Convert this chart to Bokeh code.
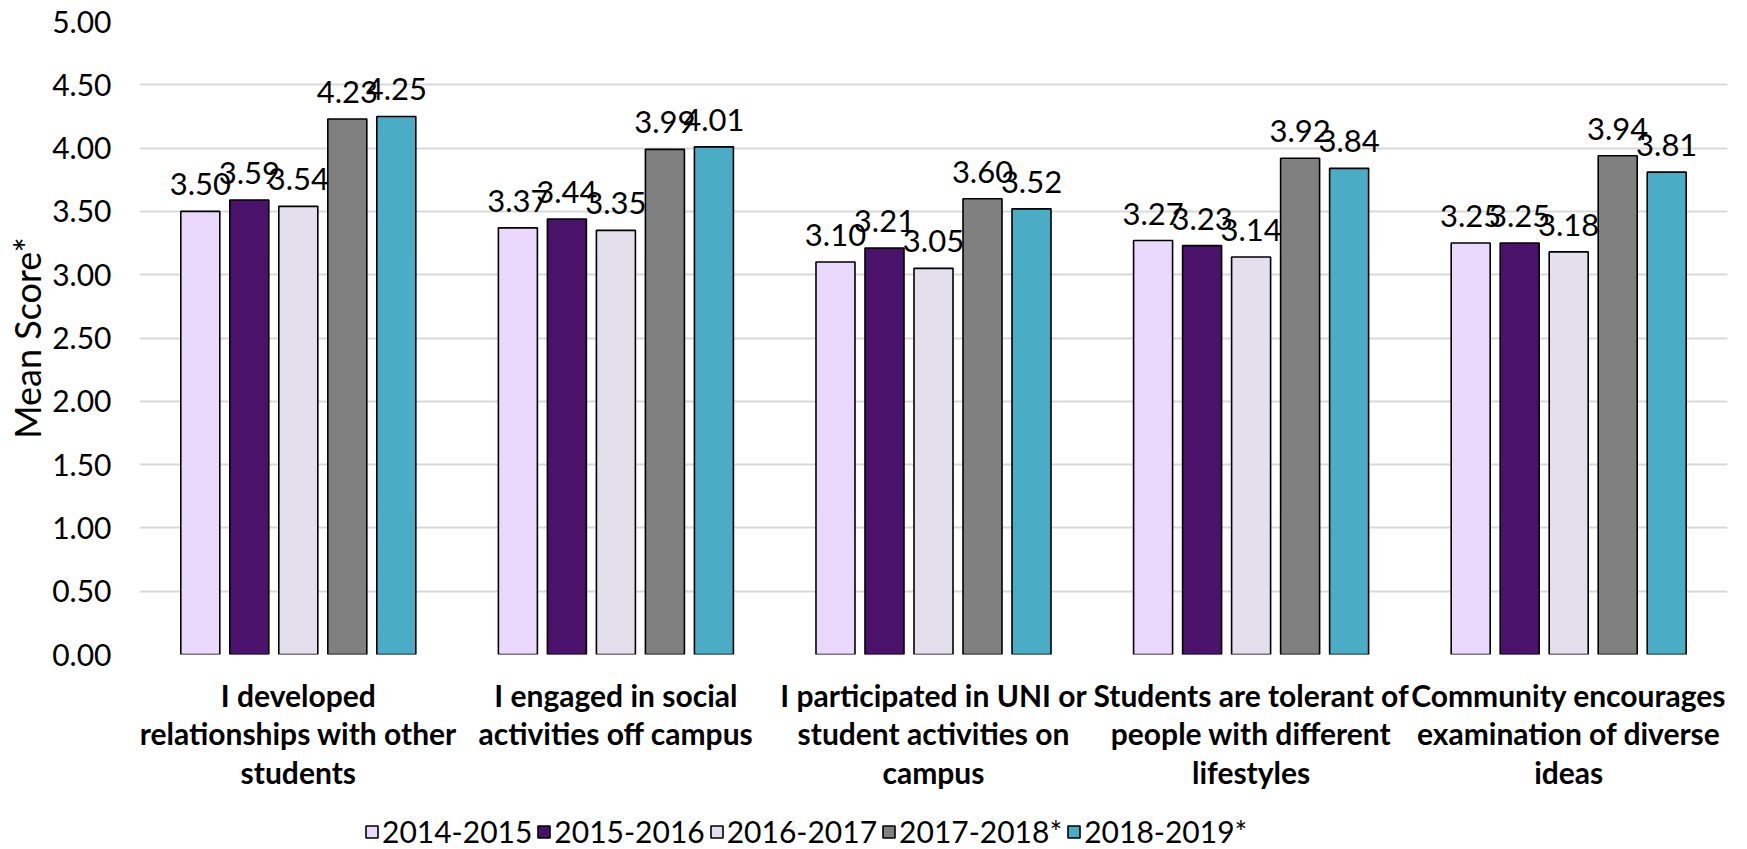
from bokeh.plotting import figure
from bokeh.layouts import column
from bokeh.models import ColumnDataSource, FactorRange, Legend, LegendItem, FixedTicker, CustomJSTickFormatter
from bokeh.transform import dodge
from bokeh.embed import file_html
from bokeh.resources import INLINE
from bokeh.core.properties import value

categories = [
    "I developed\nrelationships with other\nstudents",
    "I engaged in social\nactivities off campus",
    "I participated in UNI or\nstudent activities on\ncampus",
    "Students are tolerant of\npeople with different\nlifestyles",
    "Community encourages\nexamination of diverse\nideas",
]
years = ["2014-2015", "2015-2016", "2016-2017", "2017-2018*", "2018-2019*"]
v_2014_2015 = [3.50, 3.37, 3.10, 3.27, 3.25]
v_2015_2016 = [3.59, 3.44, 3.21, 3.23, 3.25]
v_2016_2017 = [3.54, 3.35, 3.05, 3.14, 3.18]
v_2017_2018 = [4.23, 3.99, 3.60, 3.92, 3.94]
v_2018_2019 = [4.25, 4.01, 3.52, 3.84, 3.81]
colors = ["#EAD9FD", "#4B126B", "#E4DFEC", "#808080", "#4BACC6"]
y_ticks = [0.0, 0.5, 1.0, 1.5, 2.0, 2.5, 3.0, 3.5, 4.0, 4.5, 5.0]
y_title = "Mean Score*"

series = [v_2014_2015, v_2015_2016, v_2016_2017, v_2017_2018, v_2018_2019]

FONT = "Lato"
W = 1747
MAIN_H = 797
LEG_H = 52

p = figure(
    x_range=FactorRange(*categories, range_padding=0),
    y_range=(0, 5),
    width=W, height=MAIN_H,
    output_backend="svg", toolbar_location=None,
    min_border_left=139, min_border_right=20, min_border_top=21, min_border_bottom=143,
    background_fill_color="white", border_fill_color="white",
)
p.outline_line_color = None

step = 0.1543
bw = 0.1228
for i, (yr, vals, col) in enumerate(zip(years, series, colors)):
    src = ColumnDataSource(dict(x=categories, y=vals, t=["%.2f" % v for v in vals]))
    off = (i - 2) * step
    p.vbar(x=dodge("x", off, range=p.x_range), top="y", width=bw, source=src,
           fill_color=col, line_color="black", line_width=1.6)
    p.text(x=dodge("x", off, range=p.x_range), y="y", text="t", source=src,
           text_align="center", text_baseline="alphabetic", y_offset=-27,
           text_font=value(FONT), text_font_size="31px", text_color="#000000")

# axes
p.yaxis.ticker = FixedTicker(ticks=y_ticks)
p.yaxis.formatter = CustomJSTickFormatter(code="return tick.toFixed(2);")
p.yaxis.axis_line_color = None
p.yaxis.major_tick_line_color = None
p.yaxis.minor_tick_line_color = None
p.yaxis.major_tick_out = 0
p.yaxis.major_tick_in = 0
p.yaxis.minor_tick_out = 0
p.yaxis.major_label_standoff = 28
p.yaxis.major_label_text_font = FONT
p.yaxis.major_label_text_font_size = "30px"
p.yaxis.major_label_text_color = "#000000"
p.yaxis.axis_label = y_title
p.yaxis.axis_label_text_font = FONT
p.yaxis.axis_label_text_font_size = "36px"
p.yaxis.axis_label_text_font_style = "normal"
p.yaxis.axis_label_text_color = "#000000"
p.yaxis.axis_label_standoff = 0

p.xaxis.axis_line_color = None
p.xaxis.major_tick_line_color = None
p.xaxis.minor_tick_line_color = None
p.xaxis.major_tick_out = 0
p.xaxis.major_tick_in = 0
p.xaxis.minor_tick_out = 0
p.xaxis.major_label_standoff = 22
p.xaxis.major_label_text_font = FONT
p.xaxis.major_label_text_font_size = "30px"
p.xaxis.major_label_text_font_style = "bold"
p.xaxis.major_label_text_color = "#000000"
p.xaxis.major_label_text_line_height = 1.08

p.xgrid.grid_line_color = None
p.ygrid.grid_line_color = "#D9D9D9"
p.ygrid.grid_line_width = 2

# legend in its own strip below the chart (frame aligned with the chart's frame)
lg = figure(width=W, height=LEG_H, x_range=(0, 1), y_range=(0, 1),
            output_backend="svg", toolbar_location=None,
            min_border_left=0, min_border_right=0, min_border_top=0, min_border_bottom=0,
            background_fill_color="white", border_fill_color="white")
lg.outline_line_color = None
lg.axis.visible = False
lg.grid.visible = False
items = []
for yr, col in zip(years, colors):
    # hidden placeholder renderer, only used for the legend swatch
    r = lg.vbar(x=[-5], top=[-4], bottom=[-5], width=0.1,
                fill_color=col, line_color="black", line_width=1.6, visible=False)
    items.append(LegendItem(label=yr, renderers=[r]))
legend = Legend(items=items, orientation="horizontal", location=(225, 0),
                glyph_width=15, glyph_height=15, label_standoff=3, spacing=4,
                padding=0, margin=0, border_line_color=None,
                label_text_font=FONT, label_text_font_size="30px",
                label_text_color="#000000", background_fill_alpha=0,
                inactive_fill_alpha=0)
lg.add_layout(legend)

layout = column(p, lg, spacing=0)
open("out.html", "w").write(file_html(layout, INLINE))
